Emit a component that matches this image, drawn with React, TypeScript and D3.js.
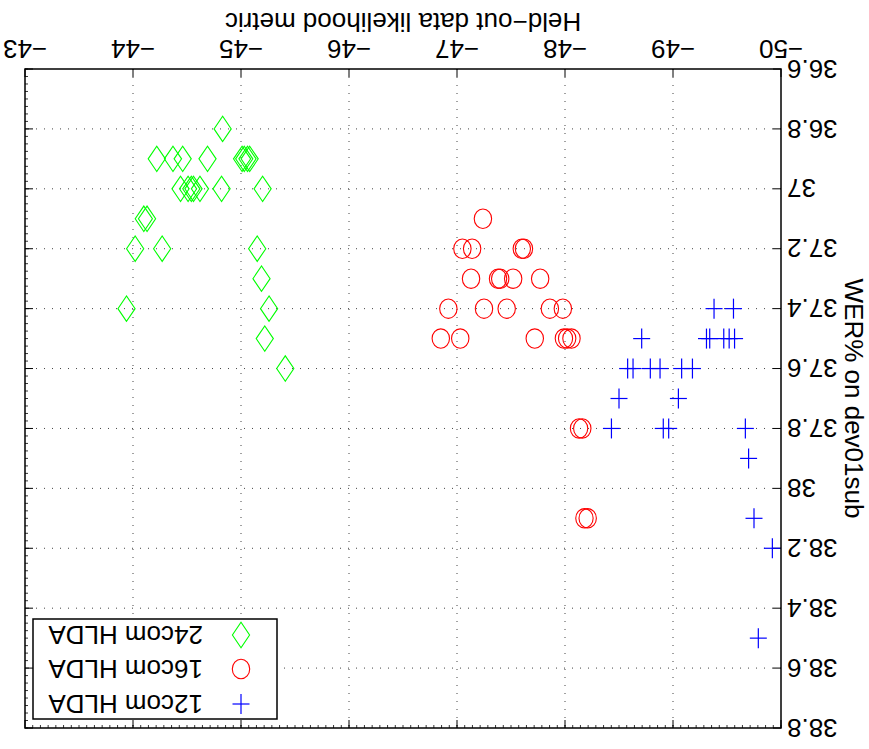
import React from "react";
import * as d3 from "d3";

const W = 869;
const H = 749;

// x: Held-out data likelihood metric, y: WER% on dev01sub
const hlda24Metric = [
  -44.83,
  -44.22, -44.37, -44.46, -44.69, -45.01, -45.03, -45.06, -45.08,
  -44.44, -44.51, -44.54, -44.56, -44.62, -44.82, -45.2,
  -44.1, -44.13,
  -44.02, -44.27, -45.15,
  -45.19,
  -43.94, -45.26,
  -45.22,
  -45.41,
];
const hlda24Wer = [
  36.8,
  36.9, 36.9, 36.9, 36.9, 36.9, 36.9, 36.9, 36.9,
  37.0, 37.0, 37.0, 37.0, 37.0, 37.0, 37.0,
  37.1, 37.1,
  37.2, 37.2, 37.2,
  37.3,
  37.4, 37.4,
  37.5,
  37.6,
];

const hlda16Metric = [
  -47.24,
  -47.05, -47.14, -47.6, -47.62,
  -47.13, -47.38, -47.4, -47.52, -47.77,
  -46.92, -47.25, -47.46, -47.86, -47.98,
  -46.85, -47.03, -47.72, -47.99, -48.02, -48.06,
  -48.13, -48.16,
  -48.18, -48.21,
];
const hlda16Wer = [
  37.1,
  37.2, 37.2, 37.2, 37.2,
  37.3, 37.3, 37.3, 37.3, 37.3,
  37.4, 37.4, 37.4, 37.4, 37.4,
  37.5, 37.5, 37.5, 37.5, 37.5, 37.5,
  37.8, 37.8,
  38.1, 38.1,
];

const hlda12Metric = [
  -49.38, -49.56,
  -48.71, -49.31, -49.34, -49.47, -49.52, -49.57,
  -48.58, -48.63, -48.79, -48.88, -49.08, -49.18,
  -48.5, -49.05,
  -48.43, -48.91, -48.96, -49.67,
  -49.7,
  -49.75,
  -49.92,
  -49.79,
];
const hlda12Wer = [
  37.4, 37.4,
  37.5, 37.5, 37.5, 37.5, 37.5, 37.5,
  37.6, 37.6, 37.6, 37.6, 37.6, 37.6,
  37.7, 37.7,
  37.8, 37.8, 37.8, 37.8,
  37.9,
  38.1,
  38.2,
  38.5,
];

const xTicks = [-50, -49, -48, -47, -46, -45, -44, -43];
const yTicks = [36.6, 36.8, 37, 37.2, 37.4, 37.6, 37.8, 38, 38.2, 38.4, 38.6, 38.8];

const legendLabels = ["12com HLDA", "16com HLDA", "24com HLDA"];

const FONT = "'Liberation Sans', Arial, Helvetica, sans-serif";

const margin = { left: 88, right: 25, top: 21, bottom: 69 };

function Marker({ kind, x, y }: { kind: string; x: number; y: number }) {
  if (kind === "plus") {
    return (
      <g stroke="#0000ff" strokeWidth={1.2} fill="none">
        <line x1={x - 8.5} x2={x + 8.5} y1={y} y2={y} />
        <line x1={x} x2={x} y1={y - 10} y2={y + 10} />
      </g>
    );
  }
  if (kind === "circle") {
    return <ellipse cx={x} cy={y} rx={8.7} ry={9.7} fill="none" stroke="#ff0000" strokeWidth={1.1} />;
  }
  return (
    <path
      d={`M${x},${y - 12.7}L${x + 8.6},${y}L${x},${y + 12.7}L${x - 8.6},${y}Z`}
      fill="none"
      stroke="#00ff00"
      strokeWidth={1.1}
    />
  );
}

export default function App() {
  const x = d3.scaleLinear().domain([-50, -43]).range([margin.left, W - margin.right]);
  const y = d3.scaleLinear().domain([36.6, 38.8]).range([H - margin.bottom, margin.top]);
  const x0 = margin.left;
  const x1 = W - margin.right;
  const y0 = H - margin.bottom;
  const y1 = margin.top;

  const xMinor = d3.range(-50, -43.0001, 1 / 14);
  const yMinor = d3.range(36.6, 38.8001, 0.025);

  const series = [
    { kind: "plus", xs: hlda12Metric, ys: hlda12Wer },
    { kind: "circle", xs: hlda16Metric, ys: hlda16Wer },
    { kind: "diamond", xs: hlda24Metric, ys: hlda24Wer },
  ];

  const fmtX = (v: number) => (v < 0 ? "\u2212" + Math.abs(v) : String(v));
  const fmtY = (v: number) => d3.format(".1f")(v).replace(/\.0$/, "");

  const legX0 = 592;
  const legX1 = 836;
  const legY0 = 30;
  const legY1 = 130;
  const legRows = [45, 80, 114];

  return (
    <svg
      width={W}
      height={H}
      style={{ position: "absolute", left: 0, top: 0, background: "#fff" }}
      fontFamily={FONT}
    >
      <rect x={0} y={0} width={W} height={H} fill="#fff" />
      <g transform={`rotate(180, ${W / 2}, ${H / 2})`}>
        {/* grid */}
        <g stroke="#444" strokeWidth={1} strokeDasharray="1 7">
          {xTicks.slice(1, -1).map((t) => (
            <line key={"gx" + t} x1={x(t)} x2={x(t)} y1={y0} y2={y1} />
          ))}
          {yTicks.slice(1, -1).map((t) => (
            <line key={"gy" + t} x1={x0} x2={x1} y1={y(t)} y2={y(t)} />
          ))}
        </g>
        {/* minor ticks (top and right edges only) */}
        <g stroke="#000" strokeWidth={0.8}>
          {xMinor.map((t, i) => (
            <line key={"mx" + i} x1={x(t)} x2={x(t)} y1={y1} y2={y1 + 3} />
          ))}
          {yMinor.map((t, i) => (
            <line key={"my" + i} x1={x1} x2={x1 - 3} y1={y(t)} y2={y(t)} />
          ))}
        </g>
        {/* major ticks */}
        <g stroke="#000" strokeWidth={1}>
          {xTicks.map((t) => (
            <g key={"tx" + t}>
              <line x1={x(t)} x2={x(t)} y1={y0} y2={y0 - 8} />
              <line x1={x(t)} x2={x(t)} y1={y1} y2={y1 + 8} />
            </g>
          ))}
          {yTicks.map((t) => (
            <g key={"ty" + t}>
              <line x1={x0} x2={x0 + 8} y1={y(t)} y2={y(t)} />
              <line x1={x1} x2={x1 - 8} y1={y(t)} y2={y(t)} />
            </g>
          ))}
        </g>
        {/* data */}
        {series.map((s) =>
          s.xs.map((v, i) => <Marker key={s.kind + i} kind={s.kind} x={x(v)} y={y(s.ys[i])} />)
        )}
        {/* box */}
        <rect x={x0} y={y1} width={x1 - x0} height={y0 - y1} fill="none" stroke="#000" strokeWidth={1.5} />
        {/* tick labels */}
        <g fontSize={26} fill="#000">
          {xTicks.map((t) => (
            <text key={"lx" + t} x={x(t)} y={709} textAnchor="middle">
              {fmtX(t)}
            </text>
          ))}
          {yTicks.map((t) => (
            <text key={"ly" + t} x={x0 - 6} y={y(t)} dy="0.36em" textAnchor="end">
              {fmtY(t)}
            </text>
          ))}
        </g>
        {/* axis labels */}
        <text x={(x0 + x1) / 2} y={736} textAnchor="middle" fontSize={26}>
          Held−out data likelihood metric
        </text>
        <text
          transform={`translate(24, ${(y0 + y1) / 2}) rotate(-90)`}
          textAnchor="middle"
          fontSize={26}
        >
          WER% on dev01sub
        </text>
        {/* legend */}
        <rect x={legX0} y={legY0} width={legX1 - legX0} height={legY1 - legY0} fill="#fff" stroke="#000" strokeWidth={1.5} />
        {legendLabels.map((lab, i) => (
          <g key={lab}>
            <Marker kind={series[i].kind} x={628} y={legRows[i]} />
            <text x={666} y={legRows[i]} dy="0.36em" fontSize={26}>
              {lab}
            </text>
          </g>
        ))}
      </g>
    </svg>
  );
}
